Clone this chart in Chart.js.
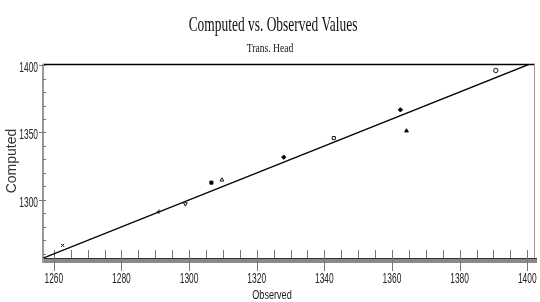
<!DOCTYPE html>
<html lang="en">
<head>
<meta charset="UTF-8">
<title>Computed vs. Observed Values</title>
<script src="https://cdn.jsdelivr.net/npm/chart.js@4.4.0/dist/chart.umd.min.js"></script>
<style>
  html, body { margin: 0; padding: 0; background: #fff; }
  #wrap { width: 540px; height: 302px; }
</style>
</head>
<body>
<div id="wrap"><canvas id="graph"></canvas></div>
<script>
// values
const observed = [1262.6, 1291.1, 1298.9, 1306.6, 1309.7, 1328.0, 1342.8, 1362.5, 1364.3, 1390.7];
const computed = [1266.3, 1291.3, 1297.0, 1312.8, 1314.8, 1331.7, 1345.8, 1366.8, 1351.2, 1396.0];
const xTickLabels = [1260, 1280, 1300, 1320, 1340, 1360, 1380, 1400];
const yTickLabels = [1300, 1350, 1400];
const xRange = [1256.8, 1402.3];
const yRange = [1256.9, 1400.8];
const oneToOne = [1256.8, 1402.3];

// marker look for each point
const markerStyle = ['crossRot', 'cross', 'triangle', 'rect', 'triangle', 'rectRot', 'rect', 'rectRot', 'triangle', 'circle'];
const markerTurn  = [0, 0, 180, 0, 0, 0, 0, 0, 0, 0];
const markerFill  = ['#000', '#000', '#fff', '#000', '#fff', '#000', '#fff', '#000', '#000', '#fff'];

const sans = "'Liberation Sans', Arial, sans-serif";
const serif = "'Liberation Serif', 'Times New Roman', serif";

const points = observed.map((o, i) => ({x: o, y: computed[i]}));

// draw text squeezed horizontally (the original uses a condensed face)
function squeezed(ctx, text, x, y, font, sx, align) {
    ctx.save();
    ctx.translate(x, y);
    ctx.scale(sx, 1);
    ctx.font = font;
    ctx.textAlign = align || 'center';
    ctx.fillText(text, 0, 0);
    ctx.restore();
}

const frame = {
    id: 'frame',
    beforeDatasetsDraw(chart) {
        const ctx = chart.ctx;
        const ca = chart.chartArea;
        const xs = chart.scales.x;
        const ys = chart.scales.y;
        ctx.save();
        // bottom bar
        ctx.fillStyle = '#8a8a8a';
        ctx.fillRect(ca.left, ca.bottom, ca.right - ca.left + 2, 5);
        ctx.strokeStyle = '#333';
        ctx.lineWidth = 1;
        ctx.beginPath();
        ctx.moveTo(ca.left, ca.bottom + 0.5);
        ctx.lineTo(ca.right + 2, ca.bottom + 0.5);
        ctx.stroke();
        // top border
        ctx.strokeStyle = '#000';
        ctx.lineWidth = 1.5;
        ctx.beginPath();
        ctx.moveTo(ca.left, ca.top + 0.5);
        ctx.lineTo(ca.right, ca.top + 0.5);
        ctx.stroke();
        // right border
        ctx.strokeStyle = '#999';
        ctx.lineWidth = 1;
        ctx.beginPath();
        ctx.moveTo(ca.right - 0.5, ca.top);
        ctx.lineTo(ca.right - 0.5, ca.bottom);
        ctx.stroke();
        // left axis
        ctx.strokeStyle = '#999';
        ctx.lineWidth = 2;
        ctx.beginPath();
        ctx.moveTo(ca.left, ca.top);
        ctx.lineTo(ca.left, ca.bottom + 5);
        ctx.stroke();
        // x ticks
        ctx.strokeStyle = '#777';
        ctx.lineWidth = 1;
        for (let v = 1260; v <= 1400; v += 5) {
            const px = Math.round(xs.getPixelForValue(v)) + 0.5;
            ctx.beginPath();
            ctx.moveTo(px, ca.bottom - 8);
            ctx.lineTo(px, v % 20 === 0 ? ca.bottom + 13 : ca.bottom);
            ctx.stroke();
        }
        // y ticks
        for (let v = 1260; v <= 1400; v += 10) {
            const py = Math.round(ys.getPixelForValue(v)) + 0.5;
            ctx.beginPath();
            ctx.moveTo(v % 50 === 0 ? ca.left - 4 : ca.left, py);
            ctx.lineTo(ca.left + 3, py);
            ctx.stroke();
        }
        // tick labels
        ctx.fillStyle = '#222';
        xTickLabels.forEach(v => {
            squeezed(ctx, String(v), xs.getPixelForValue(v), ca.bottom + 25, '14px ' + sans, 0.6);
        });
        yTickLabels.forEach(v => {
            squeezed(ctx, String(v), ca.left - 5, ys.getPixelForValue(v) + 7, '14px ' + sans, 0.6, 'right');
        });
        squeezed(ctx, 'Observed', chart.width / 2 + 2, 299, '13px ' + sans, 0.7);
        ctx.restore();
    },
    afterDraw(chart) {
        const ctx = chart.ctx;
        const cx = chart.width / 2 + 3;
        ctx.save();
        ctx.fillStyle = '#111';
        squeezed(ctx, 'Computed vs. Observed Values', cx, 31, '21px ' + serif, 0.64);
        squeezed(ctx, 'Trans. Head', cx - 3, 52, '13px ' + serif, 0.74);
        ctx.restore();
    }
};

const ctx = document.getElementById('graph').getContext('2d');
new Chart(ctx, {
    type: 'scatter',
    data: {
        datasets: [{
            label: 'Trans. Head',
            data: points,
            pointStyle: markerStyle,
            rotation: markerTurn,
            backgroundColor: markerFill,
            borderColor: '#111',
            borderWidth: 1,
            pointRadius: 2.2,
            showLine: false
        }, {
            label: '1:1',
            type: 'line',
            data: oneToOne.map(v => ({x: v, y: v})),
            borderColor: '#000',
            borderWidth: 1.4,
            pointRadius: 0,
            fill: false
        }]
    },
    options: {
        responsive: true,
        maintainAspectRatio: false,
        animation: false,
        events: [],
        layout: { padding: { top: 64, right: 1, left: 0, bottom: 0 } },
        plugins: {
            legend: { display: false },
            title: { display: false },
            tooltip: { enabled: false }
        },
        scales: {
            x: {
                type: 'linear',
                min: xRange[0],
                max: xRange[1],
                afterBuildTicks: s => { s.ticks = xTickLabels.map(v => ({value: v})); },
                afterFit: s => { s.height = 44; s.paddingLeft = 0; s.paddingRight = 0; },
                grid: { display: false, drawTicks: false },
                border: { display: false },
                ticks: { display: false }
            },
            y: {
                type: 'linear',
                min: yRange[0],
                max: yRange[1],
                afterBuildTicks: s => { s.ticks = yTickLabels.map(v => ({value: v})); },
                afterFit: s => { s.width = 43; s.paddingTop = 0; s.paddingBottom = 0; },
                grid: { display: false, drawTicks: false },
                border: { display: false },
                ticks: { display: false },
                title: {
                    display: true,
                    text: 'Computed',
                    color: '#333',
                    padding: { top: 4, bottom: 0 },
                    font: { family: sans, size: 14 }
                }
            }
        }
    },
    plugins: [frame]
});
</script>
</body>
</html>
